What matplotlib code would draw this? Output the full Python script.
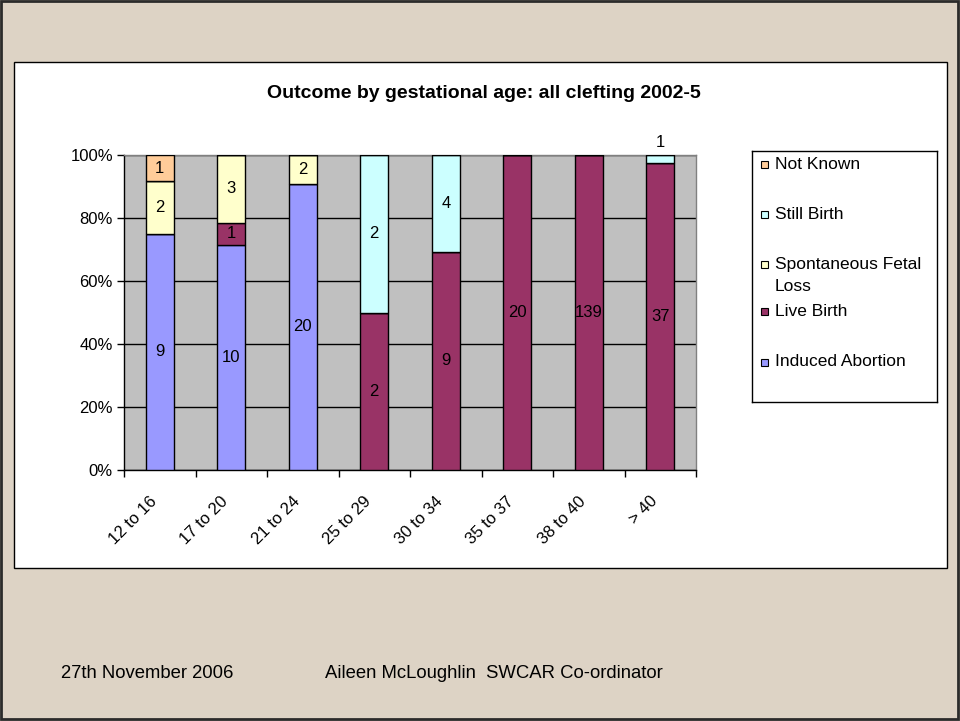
import numpy as np
import matplotlib
matplotlib.use("Agg")
import matplotlib.pyplot as plt
from matplotlib.patches import Rectangle

plt.rcParams["font.family"] = ["Liberation Sans", "DejaVu Sans"]

# ---------------------------------------------------------------------------
# Data (counts per gestational-age band)
# ---------------------------------------------------------------------------
categories = ["12 to 16", "17 to 20", "21 to 24", "25 to 29",
              "30 to 34", "35 to 37", "38 to 40", "> 40"]
induced_abortion = [9, 10, 20, 0, 0, 0, 0, 0]
live_birth = [0, 1, 0, 2, 9, 20, 139, 37]
spont_fetal_loss = [2, 3, 2, 0, 0, 0, 0, 0]
still_birth = [0, 0, 0, 2, 4, 0, 0, 1]
not_known = [1, 0, 0, 0, 0, 0, 0, 0]

series_names = ["Induced Abortion", "Live Birth", "Spontaneous Fetal\nLoss",
                "Still Birth", "Not Known"]
series_vals = [induced_abortion, live_birth, spont_fetal_loss,
               still_birth, not_known]
series_colors = ["#9999FF", "#993366", "#FFFFCC", "#CCFFFF", "#FFCC99"]

y_ticks = [0, 20, 40, 60, 80, 100]

# ---------------------------------------------------------------------------
# Figure / slide background
# ---------------------------------------------------------------------------
W, H = 960, 721
fig = plt.figure(figsize=(W / 100, H / 100), dpi=100)
fig.patch.set_facecolor("#DDD3C5")


def px_box(x0, y0, x1, y1):
    """pixel box (top-left origin) -> figure fraction [l, b, w, h]"""
    return [x0 / W, 1 - y1 / H, (x1 - x0) / W, (y1 - y0) / H]


# outer slide border
b = px_box(1, 1, 958, 719)
fig.patches.append(Rectangle((b[0], b[1]), b[2], b[3], transform=fig.transFigure,
                             facecolor="none", edgecolor="#2b2b2b", lw=2,
                             zorder=-2))
# white chart area
b = px_box(14, 62, 947, 568)
fig.patches.append(Rectangle((b[0], b[1]), b[2], b[3], transform=fig.transFigure,
                             facecolor="white", edgecolor="black", lw=1,
                             zorder=-1))

# ---------------------------------------------------------------------------
# Stacked 100% columns
# ---------------------------------------------------------------------------
ax = fig.add_axes(px_box(124, 155, 696, 470))
ax.set_facecolor("#C0C0C0")

vals = np.array(series_vals, dtype=float)
totals = vals.sum(axis=0)
pct = vals / totals * 100
x = np.arange(len(categories))
bottom = np.zeros(len(categories))

for i, name in enumerate(series_names):
    ax.bar(x, pct[i], 0.39, bottom=bottom, color=series_colors[i],
           edgecolor="black", linewidth=1, zorder=3)
    for j in range(len(categories)):
        if vals[i, j] == 0:
            continue
        if pct[i, j] < 5:
            # too thin: label sits just above the column
            ypos = bottom[j] + pct[i, j] + 4.0
        else:
            ypos = bottom[j] + pct[i, j] / 2
        ax.text(x[j], ypos, f"{int(vals[i, j])}", ha="center", va="center",
                fontsize=12, color="black", zorder=4, clip_on=False)
    bottom += pct[i]

ax.set_xlim(-0.5, len(categories) - 0.5)
ax.set_ylim(0, 100)
ax.set_yticks(y_ticks)
ax.set_yticklabels([f"{v}%" for v in y_ticks], fontsize=12)
ax.yaxis.grid(True, color="black", linewidth=1, zorder=1)
ax.set_axisbelow(True)

ax.set_xticks(x)
ax.set_xticklabels([])
ax.set_xticks(np.arange(-0.5, len(categories)), minor=True)
ax.tick_params(axis="x", which="major", length=0)
ax.tick_params(axis="x", which="minor", length=5, width=1, direction="out")
ax.tick_params(axis="y", length=5, width=1, direction="out", pad=3)

for j, lab in enumerate(categories):
    ax.text(x[j] - 0.15, -7.5, lab, rotation=45, rotation_mode="anchor",
            ha="right", va="top", fontsize=12)

for s in ["left", "bottom"]:
    ax.spines[s].set_color("black")
    ax.spines[s].set_linewidth(1)
for s in ["top", "right"]:
    ax.spines[s].set_color("#808080")
    ax.spines[s].set_linewidth(1)

# title
fig.text(484 / W, 1 - 93 / H, "Outcome by gestational age: all clefting 2002-5",
         ha="center", va="center", fontsize=14, fontweight="bold")

# ---------------------------------------------------------------------------
# Legend (reverse order, as in the original)
# ---------------------------------------------------------------------------
lax = fig.add_axes(px_box(752, 151, 937, 402))
lax.set_xlim(0, 185)
lax.set_ylim(251, 0)
lax.set_xticks([])
lax.set_yticks([])
for s in lax.spines.values():
    s.set_color("black")
    s.set_linewidth(1)

row_y = [14, 64, 114, 161, 211]
for k, idx in enumerate(reversed(range(len(series_names)))):
    yy = row_y[k]
    lax.add_patch(Rectangle((9, yy - 3.5), 7, 7, facecolor=series_colors[idx],
                            edgecolor="black", lw=0.8))
    for n, line in enumerate(series_names[idx].split("\n")):
        lax.text(23, yy + n * 22, line, ha="left", va="center", fontsize=12.5)

# ---------------------------------------------------------------------------
# Footer
# ---------------------------------------------------------------------------
fig.text(61 / W, 1 - 674 / H, "27th November 2006", ha="left", va="center",
         fontsize=13.3)
fig.text(325 / W, 1 - 674 / H, "Aileen McLoughlin  SWCAR Co-ordinator",
         ha="left", va="center", fontsize=13.3)

fig.savefig("out.png", dpi=100, facecolor=fig.get_facecolor())
